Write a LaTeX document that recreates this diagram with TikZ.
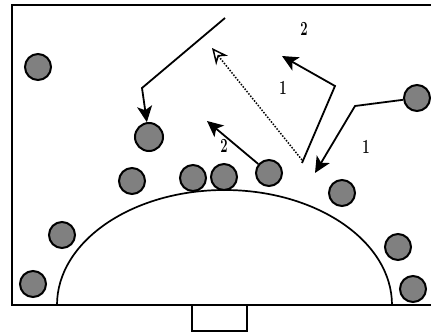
\documentclass[tikz,border=0pt]{standalone}
\usetikzlibrary{arrows.meta}
\newcommand{\pitchnum}[1]{\scalebox{0.65}[1]{#1}}
\begin{document}
\begin{tikzpicture}[
                x=1pt, y=-1pt,
                player/.style = {draw, circle, fill=gray, line width=2pt, minimum size=26pt, inner sep=0pt},
                run/.style = {line width=1.8pt, -{Stealth[length=16pt,width=15pt,inset=4pt]}},
                pass/.style = {line width=1.5pt, dash pattern=on 1.5pt off 1.5pt, -{Stealth[open,length=16pt,width=15pt]}},
                num/.style = {font=\fontsize{20}{24}\selectfont\bfseries},
            ]
            \useasboundingbox (0,0) rectangle (431,334);
            % field and goal
            \draw[line width=2.4pt] (431,5) -- (12,5) -- (12,305) -- (431,305);
            \draw[line width=1.7pt] (392,305) arc[start angle=0, end angle=180, x radius=167.5pt, y radius=115pt];
            \draw[line width=2pt] (192,305) -- (192,331) -- (247,331) -- (247,305);

            \node (p1) at (38,67) [player] {};
            \node (p2) at (149,137) [player, minimum size=28pt] {};
            \node (p3) at (132,181) [player] {};
            \node (p4) at (193,178) [player] {};
            \node (p5) at (224,177) [player] {};
            \node (p6) at (269,173) [player] {};
            \node (p7) at (342,193) [player] {};
            \node (p8) at (417,98) [player] {};
            \node (p9) at (62,235) [player] {};
            \node (p10) at (33,284) [player] {};
            \node (p11) at (398,247) [player] {};
            \node (p12) at (413,289) [player] {};

            \coordinate (r1) at (225,18); \coordinate (r2) at (142,88);
            \coordinate (d1) at (302,160); \coordinate (d2) at (212,48);
            \coordinate (c1) at (302,163); \coordinate (c2) at (335,86); \coordinate (c3) at (282,56);
            \coordinate (b1) at (355,106); \coordinate (b2) at (315,173);
            \coordinate (a1) at (207,121);

            \draw[run] (r1) -- (r2) -- (p2);
            \draw[pass] (d1) -- (d2);
            \draw[run] (c1) -- (c2) -- (c3);
            \draw[run] (p8) -- (b1) -- (b2);
            \draw[run] (p6) -- (a1);

            \node (n1) at (304,29) [num] {\pitchnum{2}};
            \node (n2) at (283,88) [num] {\pitchnum{1}};
            \node (n3) at (366,147) [num] {\pitchnum{1}};
            \node (n4) at (224,146) [num] {\pitchnum{2}};
        \end{tikzpicture}
\end{document}
